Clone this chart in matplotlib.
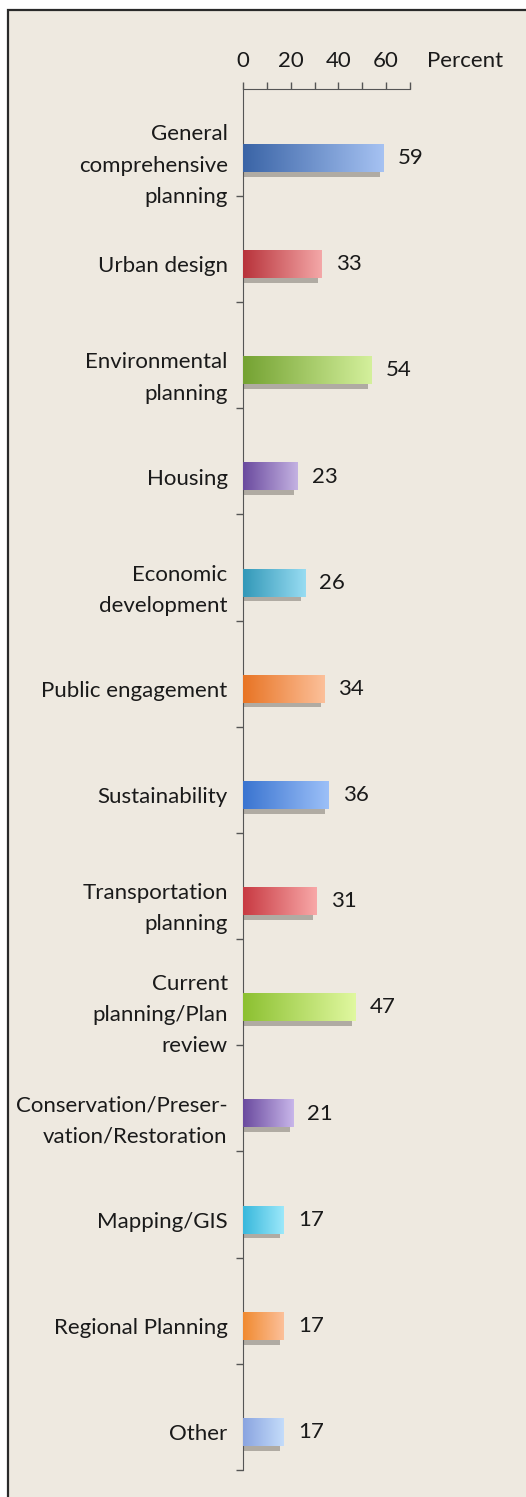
import matplotlib.pyplot as plt
import numpy as np
from matplotlib.colors import LinearSegmentedColormap
from matplotlib.patches import Rectangle

categories = ["General\ncomprehensive\nplanning", "Urban design", "Environmental\nplanning",
              "Housing", "Economic\ndevelopment", "Public engagement", "Sustainability",
              "Transportation\nplanning", "Current\nplanning/Plan\nreview",
              "Conservation/Preser-\nvation/Restoration", "Mapping/GIS",
              "Regional Planning", "Other"]
values = [59, 33, 54, 23, 26, 34, 36, 31, 47, 21, 17, 17, 17]
left_colors = ['#3a64a6', '#b8323a', '#74a232', '#6a4a9e', '#3298b8', '#e87424', '#3a74d0',
               '#c83a42', '#8cc030', '#6a4a9e', '#38b8dc', '#f08a30', '#8aa4e0']
right_colors = ['#a6c2f2', '#f4a8a8', '#d4f09c', '#c4b2e2', '#98dcf2', '#fcc09a', '#9cc0f8',
                '#f8a8a8', '#e0f8a0', '#c8b6ea', '#9ce8fa', '#fcc09a', '#c4dcfa']
x_ticks = [0, 20, 40, 60]

bg = '#eee9e0'
fs = 16
plt.rcParams['font.family'] = ['Lato', 'DejaVu Sans']

fig = plt.figure(figsize=(5.26, 14.97), dpi=100)
fig.patch.set_facecolor('white')
fig.add_artist(Rectangle((8 / 526, -0.01), 1.0, 1 - 10 / 1497 + 0.01, transform=fig.transFigure,
                         facecolor=bg, edgecolor='#2a2a2a', linewidth=1.6, zorder=0))

ax = fig.add_axes([243 / 526, 27 / 1497, (410 - 243) / 526, (1470 - 89) / 1497])
ax.set_facecolor('none')

n = len(categories)
ypos = np.arange(n)
h = 0.26
for i, v in enumerate(values):
    # grey shadow under each bar
    ax.barh(ypos[i] + 0.045, v - 1.5, height=h, color='#b0aba3', zorder=2)
    cmap = LinearSegmentedColormap.from_list('g', [left_colors[i], right_colors[i]])
    grad = np.linspace(0, 1, 256).reshape(1, -1)
    ax.imshow(grad, cmap=cmap, aspect='auto', zorder=3,
              extent=[0, v, ypos[i] + h / 2, ypos[i] - h / 2])
    ax.text(v + 6, ypos[i], str(v), va='center', ha='left', fontsize=fs, color='#1a1a1a')

top = -0.65
ax.set_xlim(0, 70)
ax.set_ylim(n - 1 + 0.357, top)
ax.set_aspect('auto')

ax.xaxis.tick_top()
ax.set_xticks(x_ticks)
ax.set_xticks(np.arange(0, 71, 10), minor=True)
ax.tick_params(axis='x', which='both', direction='out', length=5, width=1, color='#555555',
               labelsize=fs, pad=8, labelcolor='#1a1a1a')
ax.annotate('Percent', xy=(77, top), xycoords='data', xytext=(0, 13),
            textcoords='offset points', fontsize=fs, color='#1a1a1a',
            ha='left', va='bottom', annotation_clip=False)

ax.set_yticks(ypos)
ax.set_yticklabels(categories, fontsize=fs, color='#1a1a1a')
for lab in ax.get_yticklabels():
    lab.set_linespacing(1.7)
ax.tick_params(axis='y', which='major', length=0, pad=11)
ax.set_yticks(ypos + 0.357, minor=True)
ax.tick_params(axis='y', which='minor', direction='out', length=5, width=1, color='#555555')

for s in ['right', 'bottom']:
    ax.spines[s].set_visible(False)
ax.spines['left'].set_color('#555555')
ax.spines['top'].set_color('#555555')

fig.savefig('out.png', dpi=100, facecolor='white')
